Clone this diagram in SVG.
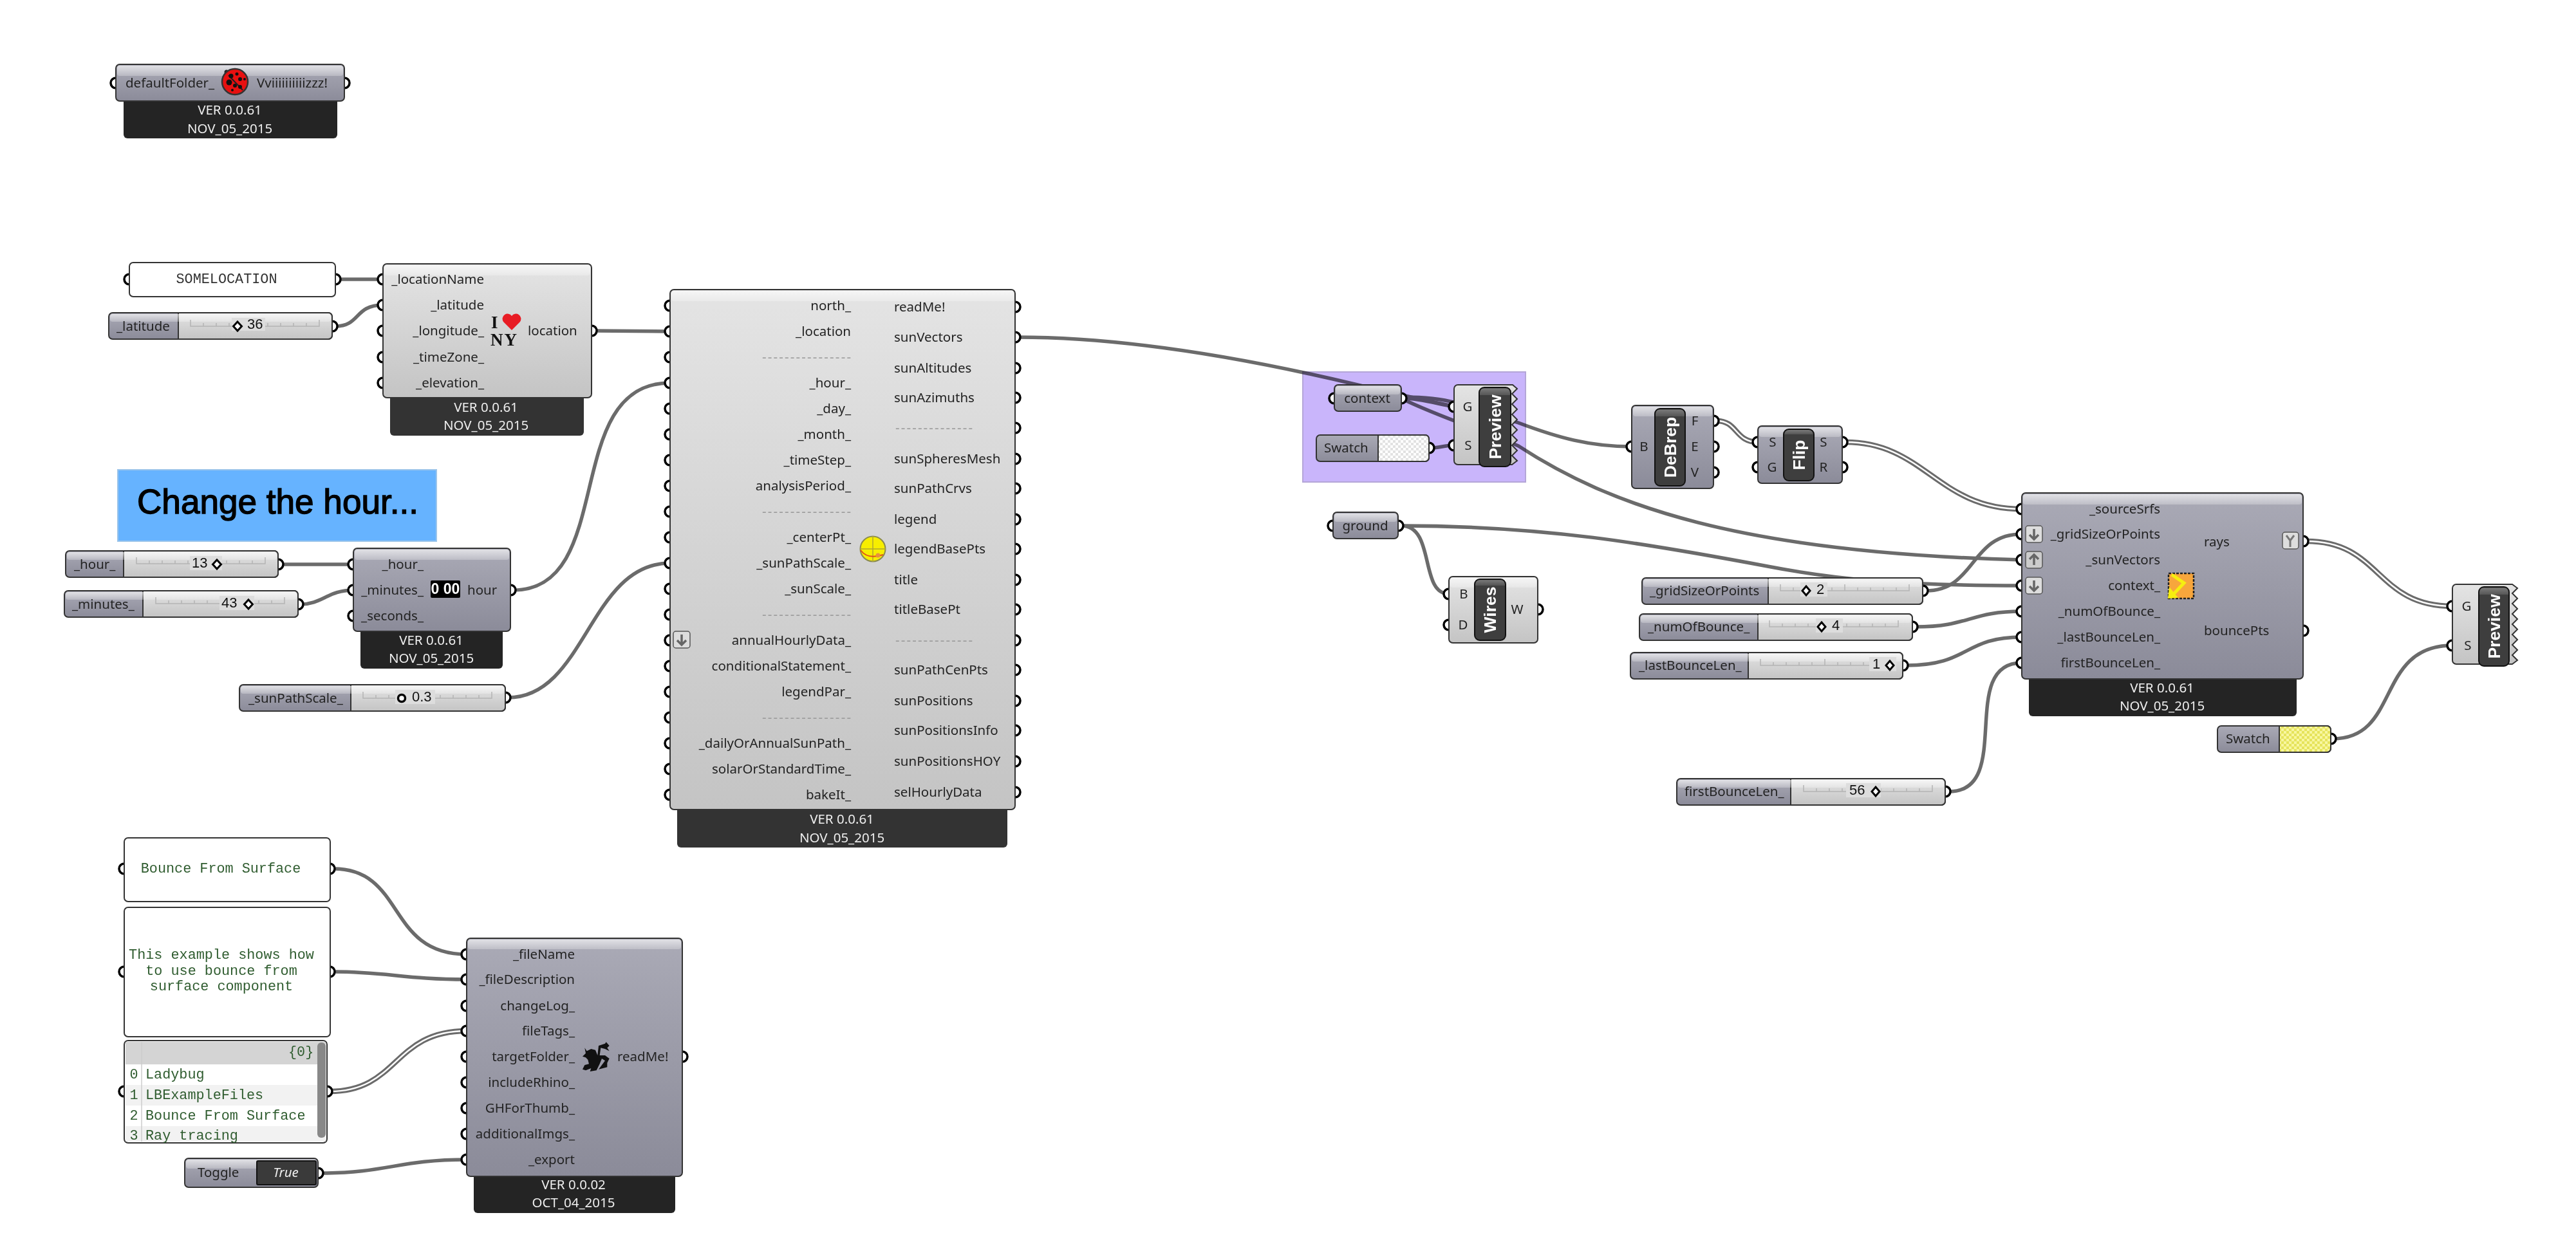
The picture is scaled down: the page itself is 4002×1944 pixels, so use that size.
<svg xmlns="http://www.w3.org/2000/svg" width="4002" height="1944" viewBox="0 0 4002 1944">
<style>
text{font-family:"Noto Sans","Open Sans",sans-serif;font-size:20.5px;fill:#222}
.r{text-anchor:end}.m{text-anchor:middle}
.ft{fill:#eee;text-anchor:middle}
.dash{fill:#9a9a9a;text-anchor:end}
.mono{font-family:"Liberation Mono",monospace;font-size:21.8px;fill:#2f5c2f}
.cap{font-family:"Liberation Sans",Arial,sans-serif;font-weight:700;font-size:26.5px;fill:#fff;text-anchor:middle}
.val{font-family:"Liberation Sans",Arial,sans-serif;font-size:22px;fill:#111}
.w{fill:none;stroke:#6b6b6b;stroke-width:5.5;stroke-linecap:round}
.w2{fill:none;stroke:#6b6b6b;stroke-width:8.5}
.wi{fill:none;stroke:#fff;stroke-width:2.5}
.p{fill:#fff;stroke:#000;stroke-width:3.5}
.nD{fill:url(#gD);stroke:#333;stroke-width:2}
.nL{fill:url(#gL);stroke:#333;stroke-width:2}
.o{fill:none;stroke:#333;stroke-width:2}
.hl{fill:url(#hl)}
.foot{fill:#242424}.footL{fill:#333}
.panel{fill:#fff;stroke:#333;stroke-width:2}
.capb{fill:url(#gC);stroke:#111;stroke-width:2}
.d{fill:#fff;stroke:#000;stroke-width:3}
</style>
<defs>
<linearGradient id="gD" x1="0" y1="0" x2="0" y2="1"><stop offset="0" stop-color="#aaaab6"/><stop offset="1" stop-color="#8b8b99"/></linearGradient>
<linearGradient id="gL" x1="0" y1="0" x2="0" y2="1"><stop offset="0" stop-color="#e4e4e4"/><stop offset="1" stop-color="#c4c4c4"/></linearGradient>
<linearGradient id="hl" x1="0" y1="0" x2="0" y2="1"><stop offset="0" stop-color="#fff" stop-opacity=".65"/><stop offset="1" stop-color="#fff" stop-opacity=".25"/></linearGradient>
<linearGradient id="gC" x1="0" y1="0" x2="0" y2="1"><stop offset="0" stop-color="#3a3a3a"/><stop offset=".02" stop-color="#777"/><stop offset=".1" stop-color="#555"/><stop offset=".101" stop-color="#3e3e3e"/><stop offset="1" stop-color="#3e3e3e"/></linearGradient>
<pattern id="chkW" width="8" height="8" patternUnits="userSpaceOnUse"><rect width="8" height="8" fill="#fff"/><rect width="4" height="4" fill="#e2e2e2"/><rect x="4" y="4" width="4" height="4" fill="#e2e2e2"/></pattern>
<pattern id="chkY" width="8" height="8" patternUnits="userSpaceOnUse"><rect width="8" height="8" fill="#f8f6a0"/><rect width="4" height="4" fill="#e6e45c"/><rect x="4" y="4" width="4" height="4" fill="#e6e45c"/></pattern>
<path id="ticks" d="M0,0v10h200v-10M20,5v5M40,5v5M60,5v5M80,5v5M100,0v10M120,5v5M140,5v5M160,5v5M180,5v5" fill="none" stroke="#b4b4b4" stroke-width="1.5"/>
<g id="bd"><rect width="26" height="26" rx="4" fill="#ddd" stroke="#555" stroke-width="1.5"/><path d="M13,5V21M6,14l7,7 7-7" fill="none" stroke="#666" stroke-width="3.5"/></g>
<g id="bu"><rect width="26" height="26" rx="4" fill="#ccc" stroke="#555" stroke-width="1.5"/><path d="M13,21V5M6,12l7-7 7,7" fill="none" stroke="#666" stroke-width="3.5"/></g>
</defs>
<rect width="4002" height="1944" fill="#fff"/>

<g id="connectors">
<path class="w" d="M521,434H595"/>
<path class="w" d="M521,507C560,507 550,474 595,474"/>
<path class="w" d="M923,514C960,514 1000,515 1041,515"/>
<path class="w" d="M437,877H549"/>
<path class="w" d="M467,939C500,939 510,917 549,917"/>
<path class="w" d="M797,917C960,917 870,595 1041,595"/>
<path class="w" d="M789,1084C910,1084 915,875 1041,875"/>
<path class="w" d="M518,1350C630,1350 600,1483 725,1483"/>
<path class="w" d="M518,1510C600,1510 630,1522 725,1522"/>
<path class="w2" d="M512,1696C620,1696 610,1602 725,1602"/><path class="wi" d="M512,1696C620,1696 610,1602 725,1602"/>
<path class="w" d="M499,1823C600,1823 620,1802 725,1802"/>
<path class="w" d="M1581,524C1760,524 1950,560 2109,598C2220,625 2310,640 2359,657C2420,680 2470,694 2535,694"/>
<path class="w" d="M2181,621C2230,645 2300,668 2359,693C2500,785 2700,859 3141,870"/>
<path class="w" d="M2181,619C2205,619 2235,628 2259,632"/>
<path class="w" d="M2181,617C2210,617 2240,620 2262,626"/>
<path class="w" d="M2225,696C2235,696 2245,692 2259,692"/>
<path class="w2" d="M2667,654C2700,654 2695,687 2731,687"/><path class="wi" d="M2667,654C2700,654 2695,687 2731,687"/>
<path class="w2" d="M2867,687C2990,687 3010,791 3141,791"/><path class="wi" d="M2867,687C2990,687 3010,791 3141,791"/>
<path class="w" d="M2177,817C2400,817 2560,845 2746,880C2850,900 2950,910 3141,910"/>
<path class="w" d="M2177,817C2230,817 2205,923 2251,923"/>
<path class="w" d="M2992,918C3070,918 3060,830 3141,830"/>
<path class="w" d="M2976,974C3060,974 3060,950 3141,950"/>
<path class="w" d="M2962,1034C3060,1034 3050,990 3141,990"/>
<path class="w" d="M3028,1230C3130,1230 3040,1030 3141,1030"/>
<path class="w2" d="M3583,841C3700,841 3690,942 3810,942"/><path class="wi" d="M3583,841C3700,841 3690,942 3810,942"/>
<path class="w" d="M3624,1148C3730,1148 3690,1003 3810,1003"/>
</g>

<rect id="group-blue" x="183" y="730" width="495" height="111" fill="#66b3ff" stroke="#9bc4ea" stroke-width="2"/>
<text x="213" y="798" textLength="437" lengthAdjust="spacingAndGlyphs" style="font-family:'Liberation Sans',Arial,sans-serif;font-size:53px;fill:#000;stroke:#000;stroke-width:1.4">Change the hour...</text>
<rect id="group-purple" x="2024" y="578" width="346" height="171" fill="#c9b5fb" stroke="#b4a6d8" stroke-width="2" style="mix-blend-mode:multiply"/>

<g id="node-ladybug">
<circle class="p" cx="180" cy="129" r="8"/><circle class="p" cx="535" cy="129" r="8"/>
<rect class="foot" x="192" y="140" width="332" height="75" rx="6"/>
<rect class="nD" x="180" y="100" width="355" height="57" rx="6"/><rect class="hl" x="182" y="102" width="351" height="16" rx="4"/>
<text x="195" y="136">defaultFolder_</text>
<circle cx="352" cy="112" r="3.5" fill="#222"/>
<circle cx="365" cy="127" r="20" fill="#e81010" stroke="#333" stroke-width="2.5"/>
<path d="M355,117L377,140" stroke="#222" stroke-width="2"/>
<g fill="#111"><circle cx="356" cy="128" r="4.5"/><circle cx="359" cy="118" r="3.5"/><circle cx="368" cy="115" r="2.5"/><circle cx="373" cy="123" r="3"/><circle cx="380" cy="123" r="2"/><circle cx="365" cy="133" r="3"/><circle cx="373" cy="135" r="3"/><circle cx="361" cy="140" r="2"/></g>
<text x="399" y="136">Vviiiiiiiiiizzz!</text>
<text class="ft" x="357" y="178">VER 0.0.61</text><text class="ft" x="357" y="207">NOV_05_2015</text>
</g>

<g id="panel-somelocation">
<circle class="p" cx="201" cy="434" r="8"/><circle class="p" cx="521" cy="434" r="8"/>
<rect class="panel" x="201" y="408" width="320" height="53" rx="6"/>
<text class="mono m" x="352" y="440" style="fill:#333">SOMELOCATION</text>
</g>

<g id="slider-latitude">
<circle class="p" cx="516" cy="507" r="8"/>
<rect class="nD" x="169" y="486" width="347" height="41" rx="6"/>
<path class="nL" d="M277,486H510a6,6 0 0 1 6,6V521a6,6 0 0 1-6,6H277Z"/><rect class="hl" x="171" y="488" width="343" height="12" rx="4"/>
<use href="#ticks" x="296" y="497"/>
<rect x="360" y="494" width="52" height="20" fill="#ddd"/>
<text x="181" y="514">_latitude</text>
<path class="d" d="M369,500l6.5,7-6.5,7-6.5-7Z"/><text class="val" x="384" y="511">36</text>
</g>

<g id="node-location">
<circle class="p" cx="595" cy="434" r="8"/><circle class="p" cx="595" cy="474" r="8"/><circle class="p" cx="595" cy="514" r="8"/><circle class="p" cx="595" cy="555" r="8"/><circle class="p" cx="595" cy="595" r="8"/><circle class="p" cx="919" cy="514" r="8"/>
<rect class="footL" x="606" y="600" width="301" height="77" rx="6"/>
<rect class="nL" x="595" y="410" width="324" height="208" rx="6"/><rect class="hl" x="597" y="412" width="320" height="16" rx="4"/>
<text class="r" x="752" y="441">_locationName</text><text class="r" x="752" y="481">_latitude</text><text class="r" x="752" y="521">_longitude_</text><text class="r" x="752" y="562">_timeZone_</text><text class="r" x="752" y="602">_elevation_</text>
<text x="763" y="510" style="font-family:'Liberation Serif',serif;font-weight:700;font-size:27px;fill:#111">I</text>
<path d="M795,513l-13-13a7.5,7.5 0 0 1 13-9 7.5,7.5 0 0 1 13,9Z" fill="#e81c24"/>
<text x="762" y="537" textLength="41" style="font-family:'Liberation Serif',serif;font-weight:700;font-size:27px;fill:#111">NY</text>
<text x="820" y="521">location</text>
<text class="ft" x="755" y="640">VER 0.0.61</text><text class="ft" x="755" y="668">NOV_05_2015</text>
</g>

<g id="slider-hour">
<circle class="p" cx="432" cy="877" r="8"/>
<rect class="nD" x="102" y="856" width="330" height="41" rx="6"/>
<path class="nL" d="M192,856H426a6,6 0 0 1 6,6V891a6,6 0 0 1-6,6H192Z"/><rect class="hl" x="104" y="858" width="326" height="12" rx="4"/>
<use href="#ticks" x="212" y="866"/>
<rect x="295" y="864" width="50" height="22" fill="#ddd"/>
<text x="115" y="884">_hour_</text>
<text class="val" x="298" y="882">13</text><path class="d" d="M337,870l6.5,7-6.5,7-6.5-7Z"/>
</g>

<g id="slider-minutes">
<circle class="p" cx="463" cy="939" r="8"/>
<rect class="nD" x="100" y="918" width="363" height="41" rx="6"/>
<path class="nL" d="M222,918H457a6,6 0 0 1 6,6V953a6,6 0 0 1-6,6H222Z"/><rect class="hl" x="102" y="920" width="359" height="12" rx="4"/>
<use href="#ticks" x="242" y="928"/>
<rect x="341" y="926" width="54" height="22" fill="#ddd"/>
<text x="112" y="946">_minutes_</text>
<text class="val" x="344" y="944">43</text><path class="d" d="M386,932l6.5,7-6.5,7-6.5-7Z"/>
</g>

<g id="node-hour">
<circle class="p" cx="549" cy="877" r="8"/><circle class="p" cx="549" cy="917" r="8"/><circle class="p" cx="549" cy="957" r="8"/><circle class="p" cx="793" cy="917" r="8"/>
<rect class="foot" x="560" y="970" width="221" height="69" rx="6"/>
<rect class="nD" x="549" y="852" width="244" height="129" rx="6"/><rect class="hl" x="551" y="854" width="240" height="16" rx="4"/>
<text class="r" x="658" y="884">_hour_</text><text class="r" x="658" y="924">_minutes_</text><text class="r" x="658" y="964">_seconds_</text>
<rect x="669" y="902" width="46" height="27" rx="2" fill="#000"/>
<text class="m" x="692" y="923" style="font-family:'Liberation Sans',Arial,sans-serif;font-weight:700;font-size:23px;fill:#fff">0 00</text>
<text x="726" y="924">hour</text>
<text class="ft" x="670" y="1002">VER 0.0.61</text><text class="ft" x="670" y="1030">NOV_05_2015</text>
</g>

<g id="slider-sunpathscale">
<circle class="p" cx="785" cy="1084" r="8"/>
<rect class="nD" x="372" y="1064" width="413" height="41" rx="6"/>
<path class="nL" d="M545,1064H779a6,6 0 0 1 6,6V1099a6,6 0 0 1-6,6H545Z"/><rect class="hl" x="374" y="1066" width="409" height="12" rx="4"/>
<use href="#ticks" x="564" y="1075"/>
<rect x="614" y="1072" width="62" height="22" fill="#ddd"/>
<text x="386" y="1092">_sunPathScale_</text>
<circle cx="624" cy="1085" r="5.5" fill="#fff" stroke="#000" stroke-width="3.5"/><text class="val" x="640" y="1090">0.3</text>
</g>

<g id="node-sunpath">
<g id="sunpath-ports">
<circle class="p" cx="1041" cy="475" r="8"/><circle class="p" cx="1041" cy="515" r="8"/><circle class="p" cx="1041" cy="555" r="8"/><circle class="p" cx="1041" cy="595" r="8"/><circle class="p" cx="1041" cy="635" r="8"/><circle class="p" cx="1041" cy="675" r="8"/><circle class="p" cx="1041" cy="715" r="8"/><circle class="p" cx="1041" cy="755" r="8"/><circle class="p" cx="1041" cy="795" r="8"/><circle class="p" cx="1041" cy="835" r="8"/><circle class="p" cx="1041" cy="875" r="8"/><circle class="p" cx="1041" cy="915" r="8"/><circle class="p" cx="1041" cy="955" r="8"/><circle class="p" cx="1041" cy="995" r="8"/><circle class="p" cx="1041" cy="1035" r="8"/><circle class="p" cx="1041" cy="1075" r="8"/><circle class="p" cx="1041" cy="1115" r="8"/><circle class="p" cx="1041" cy="1155" r="8"/><circle class="p" cx="1041" cy="1195" r="8"/><circle class="p" cx="1041" cy="1235" r="8"/>
<circle class="p" cx="1577" cy="477" r="8"/><circle class="p" cx="1577" cy="524" r="8"/><circle class="p" cx="1577" cy="572" r="8"/><circle class="p" cx="1577" cy="618" r="8"/><circle class="p" cx="1577" cy="665" r="8"/><circle class="p" cx="1577" cy="713" r="8"/><circle class="p" cx="1577" cy="759" r="8"/><circle class="p" cx="1577" cy="807" r="8"/><circle class="p" cx="1577" cy="853" r="8"/><circle class="p" cx="1577" cy="901" r="8"/><circle class="p" cx="1577" cy="947" r="8"/><circle class="p" cx="1577" cy="995" r="8"/><circle class="p" cx="1577" cy="1041" r="8"/><circle class="p" cx="1577" cy="1089" r="8"/><circle class="p" cx="1577" cy="1135" r="8"/><circle class="p" cx="1577" cy="1183" r="8"/><circle class="p" cx="1577" cy="1231" r="8"/>
</g>
<rect class="footL" x="1052" y="1240" width="513" height="77" rx="6"/>
<rect class="nL" x="1041" y="450" width="536" height="808" rx="6"/><rect class="hl" x="1043" y="452" width="532" height="16" rx="4"/>
<text class="r" x="1322" y="482">north_</text><text class="r" x="1322" y="522">_location</text><text class="dash" x="1322" y="562" textLength="138">----------------</text><text class="r" x="1322" y="602">_hour_</text><text class="r" x="1322" y="642">_day_</text><text class="r" x="1322" y="682">_month_</text><text class="r" x="1322" y="722">_timeStep_</text><text class="r" x="1322" y="762">analysisPeriod_</text><text class="dash" x="1322" y="802" textLength="138">----------------</text><text class="r" x="1322" y="842">_centerPt_</text><text class="r" x="1322" y="882">_sunPathScale_</text><text class="r" x="1322" y="922">_sunScale_</text><text class="dash" x="1322" y="962" textLength="138">----------------</text><text class="r" x="1322" y="1002">annualHourlyData_</text><text class="r" x="1322" y="1042">conditionalStatement_</text><text class="r" x="1322" y="1082">legendPar_</text><text class="dash" x="1322" y="1122" textLength="138">----------------</text><text class="r" x="1322" y="1162">_dailyOrAnnualSunPath_</text><text class="r" x="1322" y="1202">solarOrStandardTime_</text><text class="r" x="1322" y="1242">bakeIt_</text>
<text x="1389" y="484">readMe!</text><text x="1389" y="531">sunVectors</text><text x="1389" y="579">sunAltitudes</text><text x="1389" y="625">sunAzimuths</text><text x="1391" y="672" textLength="120" style="fill:#9a9a9a">--------------</text><text x="1389" y="720">sunSpheresMesh</text><text x="1389" y="766">sunPathCrvs</text><text x="1389" y="814">legend</text><text x="1389" y="860">legendBasePts</text><text x="1389" y="908">title</text><text x="1389" y="954">titleBasePt</text><text x="1391" y="1002" textLength="120" style="fill:#9a9a9a">--------------</text><text x="1389" y="1048">sunPathCenPts</text><text x="1389" y="1096">sunPositions</text><text x="1389" y="1142">sunPositionsInfo</text><text x="1389" y="1190">sunPositionsHOY</text><text x="1389" y="1238">selHourlyData</text>
<use href="#bd" x="1046" y="981"/>
<circle cx="1356" cy="853" r="19.5" fill="#f7ee00" stroke="#8a8a50" stroke-width="2"/><path d="M1356,833V873M1336,853H1376" stroke="#b0a830" stroke-width="1.5"/><path d="M1337,855Q1348,870 1372,862" fill="none" stroke="#e0501c" stroke-width="2"/><circle cx="1364" cy="863" r="3.5" fill="#e89040"/>
<text class="ft" x="1308" y="1280">VER 0.0.61</text><text class="ft" x="1308" y="1309">NOV_05_2015</text>
</g>

<g id="panel-filename">
<circle class="p" cx="193" cy="1350" r="8"/><circle class="p" cx="512" cy="1350" r="8"/>
<rect class="panel" x="193" y="1302" width="320" height="99" rx="6"/>
<text class="mono m" x="343" y="1356">Bounce From Surface</text>
</g>
<g id="panel-description">
<circle class="p" cx="193" cy="1510" r="8"/><circle class="p" cx="512" cy="1510" r="8"/>
<rect class="panel" x="193" y="1410" width="320" height="201" rx="6"/>
<text class="mono m" x="344" y="1490">This example shows how</text><text class="mono m" x="344" y="1515">to use bounce from</text><text class="mono m" x="344" y="1539">surface component</text>
</g>
<g id="panel-tags">
<circle class="p" cx="193" cy="1696" r="8"/><circle class="p" cx="508" cy="1696" r="8"/>
<rect class="panel" x="193" y="1617" width="315" height="159" rx="6"/>
<rect x="195" y="1619" width="311" height="35" fill="#d4d4d4"/>
<rect x="195" y="1686" width="311" height="32" fill="#f2f2f2"/><rect x="195" y="1750" width="311" height="24" fill="#f2f2f2"/>
<path d="M220,1619V1774" stroke="#ccc" stroke-width="1.5"/>
<rect x="493" y="1620" width="13" height="148" rx="6" fill="#888"/>
<text class="mono" x="448" y="1641">{0}</text>
<text class="mono m" x="208" y="1676">0</text><text class="mono" x="226" y="1676">Ladybug</text>
<text class="mono m" x="208" y="1708">1</text><text class="mono" x="226" y="1708">LBExampleFiles</text>
<text class="mono m" x="208" y="1740">2</text><text class="mono" x="226" y="1740">Bounce From Surface</text>
<text class="mono m" x="208" y="1771">3</text><text class="mono" x="226" y="1771">Ray tracing</text>
</g>
<g id="toggle">
<circle class="p" cx="494" cy="1823" r="8"/>
<rect class="nD" x="287" y="1800" width="207" height="45" rx="6"/><rect class="hl" x="289" y="1802" width="203" height="14" rx="4"/>
<text x="307" y="1829">Toggle</text>
<rect x="399" y="1804" width="92" height="37" rx="2" fill="#3a3a3a" stroke="#111" stroke-width="2"/>
<text class="m" x="444" y="1829" style="font-style:italic;fill:#eee">True</text>
</g>

<g id="node-metadata">
<circle class="p" cx="725" cy="1483" r="8"/><circle class="p" cx="725" cy="1522" r="8"/><circle class="p" cx="725" cy="1563" r="8"/><circle class="p" cx="725" cy="1602" r="8"/><circle class="p" cx="725" cy="1642" r="8"/><circle class="p" cx="725" cy="1682" r="8"/><circle class="p" cx="725" cy="1722" r="8"/><circle class="p" cx="725" cy="1762" r="8"/><circle class="p" cx="725" cy="1802" r="8"/><circle class="p" cx="1060" cy="1642" r="8"/>
<rect class="foot" x="736" y="1815" width="313" height="70" rx="6"/>
<rect class="nD" x="725" y="1458" width="335" height="370" rx="6"/><rect class="hl" x="727" y="1460" width="331" height="15" rx="4"/>
<text class="r" x="893" y="1490">_fileName</text><text class="r" x="893" y="1529">_fileDescription</text><text class="r" x="893" y="1570">changeLog_</text><text class="r" x="893" y="1609">fileTags_</text><text class="r" x="893" y="1649">targetFolder_</text><text class="r" x="893" y="1689">includeRhino_</text><text class="r" x="893" y="1729">GHForThumb_</text><text class="r" x="893" y="1769">additionalImgs_</text><text class="r" x="893" y="1809">_export</text>
<path transform="translate(890,1600) scale(.3333)" d="M55,85L65,100 85,90 105,95 115,120 120,75 150,65 155,58 170,75 160,85 170,100 150,90 130,85 125,120 150,120 170,135 160,155 160,175 140,180 120,185 135,165 150,145 135,135 125,160 110,190 80,195 85,180 60,190 45,185 55,165 75,160 70,140 60,130 45,125 60,110Z" fill="#111"/>
<text x="959" y="1649">readMe!</text>
<text class="ft" x="891" y="1848">VER 0.0.02</text><text class="ft" x="891" y="1876">OCT_04_2015</text>
</g>

<g id="param-context">
<circle class="p" cx="2073" cy="619" r="8"/><circle class="p" cx="2177" cy="619" r="8"/>
<rect class="nD" x="2073" y="598" width="104" height="41" rx="6"/><rect class="hl" x="2075" y="600" width="100" height="13" rx="4"/>
<text class="m" x="2124" y="626">context</text>
</g>
<g id="swatch-white">
<circle class="p" cx="2220" cy="696" r="8"/>
<rect class="nD" x="2045" y="676" width="175" height="41" rx="6"/>
<path d="M2141,676H2214a6,6 0 0 1 6,6V711a6,6 0 0 1-6,6H2141Z" fill="url(#chkW)" stroke="#333" stroke-width="2"/>
<text x="2057" y="703">Swatch</text>
</g>
<g id="node-preview-1">
<circle class="p" cx="2259" cy="632" r="8"/><circle class="p" cx="2259" cy="692" r="8"/>
<path class="nL" d="M2265,598H2350l7,6-8,8 8,8-8,8 8,8-8,8 8,8-8,8 8,8-8,8 8,8-8,8 8,8-8,8 8,8-8,6H2265a6,6 0 0 1-6-6V604a6,6 0 0 1 6-6Z"/>
<text class="m" x="2280" y="639">G</text><text class="m" x="2281" y="699">S</text>
<rect class="capb" x="2298" y="602" width="49" height="123" rx="8"/>
<text class="cap" transform="translate(2332,663.5) rotate(-90)">Preview</text>
</g>
<g id="node-debrep">
<circle class="p" cx="2535" cy="694" r="8"/><circle class="p" cx="2662" cy="654" r="8"/><circle class="p" cx="2662" cy="694" r="8"/><circle class="p" cx="2662" cy="734" r="8"/>
<rect class="nD" x="2535" y="630" width="127" height="129" rx="6"/><rect class="hl" x="2537" y="632" width="123" height="15" rx="4"/>
<text class="m" x="2554" y="701">B</text><text class="m" x="2633" y="661">F</text><text class="m" x="2633" y="701">E</text><text class="m" x="2633" y="741">V</text>
<rect class="capb" x="2571" y="635" width="47" height="120" rx="8"/>
<text class="cap" transform="translate(2604,695) rotate(-90)">DeBrep</text>
</g>
<g id="node-flip">
<circle class="p" cx="2731" cy="687" r="8"/><circle class="p" cx="2731" cy="726" r="8"/><circle class="p" cx="2862" cy="687" r="8"/><circle class="p" cx="2862" cy="726" r="8"/>
<rect class="nD" x="2731" y="662" width="131" height="89" rx="6"/><rect class="hl" x="2733" y="664" width="127" height="15" rx="4"/>
<text class="m" x="2754" y="694">S</text><text class="m" x="2753" y="733">G</text><text class="m" x="2833" y="694">S</text><text class="m" x="2833" y="733">R</text>
<rect class="capb" x="2771" y="667" width="47" height="80" rx="8"/>
<text class="cap" transform="translate(2804,707) rotate(-90)">Flip</text>
</g>
<g id="param-ground">
<circle class="p" cx="2071" cy="817" r="8"/><circle class="p" cx="2172" cy="817" r="8"/>
<rect class="nD" x="2071" y="796" width="101" height="41" rx="6"/><rect class="hl" x="2073" y="798" width="97" height="13" rx="4"/>
<text class="m" x="2121" y="824">ground</text>
</g>
<g id="node-wires">
<circle class="p" cx="2251" cy="923" r="8"/><circle class="p" cx="2251" cy="971" r="8"/><circle class="p" cx="2389" cy="947" r="8"/>
<rect class="nL" x="2251" y="896" width="138" height="103" rx="6"/><rect class="hl" x="2253" y="898" width="134" height="15" rx="4"/>
<text class="m" x="2274" y="930">B</text><text class="m" x="2273" y="978">D</text><text class="m" x="2357" y="954">W</text>
<rect class="capb" x="2291" y="900" width="48" height="95" rx="8"/>
<text class="cap" transform="translate(2324,947.5) rotate(-90)">Wires</text>
</g>

<g id="slider-gridsize">
<circle class="p" cx="2987" cy="918" r="8"/>
<rect class="nD" x="2551" y="898" width="436" height="41" rx="6"/>
<path class="nL" d="M2747,898H2981a6,6 0 0 1 6,6V933a6,6 0 0 1-6,6H2747Z"/><rect class="hl" x="2553" y="900" width="432" height="12" rx="4"/>
<use href="#ticks" x="2766" y="908"/>
<rect x="2797" y="905" width="42" height="22" fill="#ddd"/>
<text x="2563" y="925">_gridSizeOrPoints</text>
<path class="d" d="M2806,911l6,7-6,7-6-7Z"/><text class="val" x="2822" y="923">2</text>
</g>
<g id="slider-numofbounce">
<circle class="p" cx="2971" cy="974" r="8"/>
<rect class="nD" x="2547" y="954" width="424" height="41" rx="6"/>
<path class="nL" d="M2731,954H2965a6,6 0 0 1 6,6V989a6,6 0 0 1-6,6H2731Z"/><rect class="hl" x="2549" y="956" width="420" height="12" rx="4"/>
<use href="#ticks" x="2749" y="964"/>
<rect x="2821" y="961" width="42" height="22" fill="#ddd"/>
<text x="2560" y="981">_numOfBounce_</text>
<path class="d" d="M2830,967l6,7-6,7-6-7Z"/><text class="val" x="2846" y="979">4</text>
</g>
<g id="slider-lastbouncelen">
<circle class="p" cx="2956" cy="1034" r="8"/>
<rect class="nD" x="2533" y="1014" width="423" height="41" rx="6"/>
<path class="nL" d="M2716,1014H2950a6,6 0 0 1 6,6V1049a6,6 0 0 1-6,6H2716Z"/><rect class="hl" x="2535" y="1016" width="419" height="12" rx="4"/>
<use href="#ticks" x="2735" y="1024"/>
<rect x="2904" y="1021" width="42" height="22" fill="#ddd"/>
<text x="2546" y="1041">_lastBounceLen_</text>
<text class="val" x="2909" y="1039">1</text><path class="d" d="M2936,1027l6,7-6,7-6-7Z"/>
</g>
<g id="slider-firstbouncelen">
<circle class="p" cx="3022" cy="1230" r="8"/>
<rect class="nD" x="2605" y="1210" width="417" height="41" rx="6"/>
<path class="nL" d="M2782,1210H3016a6,6 0 0 1 6,6V1245a6,6 0 0 1-6,6H2782Z"/><rect class="hl" x="2607" y="1212" width="413" height="12" rx="4"/>
<use href="#ticks" x="2802" y="1220"/>
<rect x="2868" y="1217" width="54" height="22" fill="#ddd"/>
<text x="2617" y="1237">firstBounceLen_</text>
<text class="val" x="2873" y="1235">56</text><path class="d" d="M2914,1223l6,7-6,7-6-7Z"/>
</g>

<g id="node-bounce">
<circle class="p" cx="3141" cy="791" r="8"/><circle class="p" cx="3141" cy="830" r="8"/><circle class="p" cx="3141" cy="870" r="8"/><circle class="p" cx="3141" cy="910" r="8"/><circle class="p" cx="3141" cy="950" r="8"/><circle class="p" cx="3141" cy="990" r="8"/><circle class="p" cx="3141" cy="1030" r="8"/><circle class="p" cx="3578" cy="841" r="8"/><circle class="p" cx="3578" cy="980" r="8"/>
<rect class="foot" x="3152" y="1040" width="416" height="73" rx="6"/>
<rect class="nD" x="3141" y="766" width="437" height="289" rx="6"/><rect class="hl" x="3143" y="768" width="433" height="16" rx="4"/>
<text class="r" x="3356" y="798">_sourceSrfs</text><text class="r" x="3356" y="837">_gridSizeOrPoints</text><text class="r" x="3356" y="877">_sunVectors</text><text class="r" x="3356" y="917">context_</text><text class="r" x="3356" y="957">_numOfBounce_</text><text class="r" x="3356" y="997">_lastBounceLen_</text><text class="r" x="3356" y="1037">firstBounceLen_</text>
<text x="3424" y="849">rays</text><text x="3424" y="987">bouncePts</text>
<use href="#bd" x="3147" y="817"/><use href="#bu" x="3147" y="857"/><use href="#bd" x="3147" y="897"/>
<rect x="3369" y="891" width="39" height="39" fill="#f7a63c" stroke="#222" stroke-width="2.5" stroke-dasharray="4 2"/>
<path d="M3374,893L3393,906 3374,926" fill="none" stroke="#f6ee10" stroke-width="5"/>
<path d="M3368,930L3370,912 3384,929Z" fill="#f6ee10"/>
<rect x="3546" y="827" width="25" height="26" rx="4" fill="#ddd" stroke="#555" stroke-width="1.5"/><path d="M3552,832l6,8 6-8M3558,840V850" fill="none" stroke="#777" stroke-width="3"/>
<text class="ft" x="3359" y="1076">VER 0.0.61</text><text class="ft" x="3359" y="1104">NOV_05_2015</text>
</g>

<g id="swatch-yellow">
<circle class="p" cx="3621" cy="1148" r="8"/>
<rect class="nD" x="3445" y="1128" width="176" height="41" rx="6"/>
<path d="M3541,1128H3615a6,6 0 0 1 6,6V1163a6,6 0 0 1-6,6H3541Z" fill="url(#chkY)" stroke="#333" stroke-width="2"/>
<text x="3458" y="1155">Swatch</text>
</g>
<g id="node-preview-2">
<circle class="p" cx="3810" cy="942" r="8"/><circle class="p" cx="3810" cy="1003" r="8"/>
<path class="nL" d="M3816,908H3903l8,6-8,8 8,8-8,8 8,8-8,8 8,8-8,8 8,8-8,8 8,8-8,8 8,8-8,8 8,8-8,6H3816a6,6 0 0 1-6-6V914a6,6 0 0 1 6-6Z"/>
<text class="m" x="3832" y="949">G</text><text class="m" x="3834" y="1010">S</text>
<rect class="capb" x="3851" y="912" width="47" height="123" rx="8"/>
<text class="cap" transform="translate(3884,973.5) rotate(-90)">Preview</text>
</g>
</svg>
